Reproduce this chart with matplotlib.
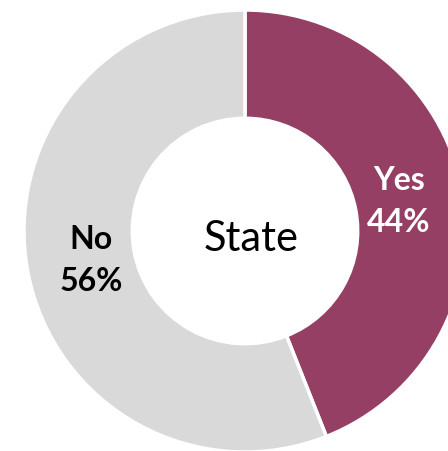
import matplotlib.pyplot as plt

labels = ['Yes', 'No']
shares = [44, 56]
colors = ['#953F64', '#D9D9D9']
text_colors = ['white', 'black']
center_title = 'State'


def main():
    fig = plt.figure(figsize=(4.48, 4.51), dpi=100)
    ax = fig.add_axes([0, 0, 1, 1])

    radius = 221
    wedges, texts = ax.pie(
        shares, radius=radius, startangle=90, counterclock=False,
        colors=colors, labels=[f'{l}\n{s}%' for l, s in zip(labels, shares)],
        labeldistance=0.71,
        wedgeprops=dict(width=radius * 0.49, edgecolor='white', linewidth=2.5),
        textprops=dict(fontsize=23, fontweight='bold', family='Lato',
                       ha='center', va='center', linespacing=1.55))
    for t, c in zip(texts, text_colors):
        t.set_color(c)
        t.set_horizontalalignment('center')

    ax.text(6, -8, center_title, fontsize=30, family='Lato',
            ha='center', va='center')

    # crop like the original: pixel-sized data units
    ax.set_xlim(-245, 203)
    ax.set_ylim(-220, 231)
    ax.set_aspect('auto')
    ax.axis('off')
    plt.savefig('out.png', dpi=100)


if __name__ == '__main__':
    main()
